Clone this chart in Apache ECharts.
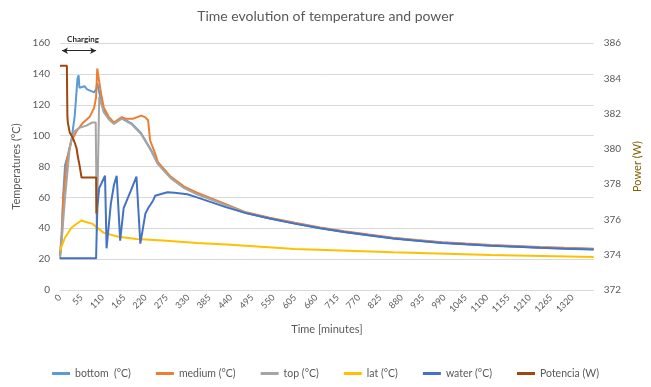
<!DOCTYPE html>
<html><head><meta charset="utf-8">
<script src="https://cdn.jsdelivr.net/npm/echarts@6/dist/echarts.min.js"></script>
<style>html,body{margin:0;padding:0;background:#fff}#c{width:651px;height:387px}</style>
</head><body><div id="c"></div>
<script>
// ---- data (time in minutes, temperatures in °C, power in W) ----
const xTicks = [0,55,110,165,220,275,330,385,440,495,550,605,660,715,770,825,880,935,990,1045,1100,1155,1210,1265,1320];
const tailTimes = [479,540,605,670,732,795,858,920,984,1045,1110,1175,1236,1300,1375];

const bottomTimes = [0,5,8,13,20,30,38,43,45,48,50,63,70,88,93,96,101,106,113,126,139,159,184,209,235,252,285,320,353,429].concat(tailTimes);
const bottomVals  = [22,40,60,81,87,98,113,130,137,139,131,132,130,128,130,134,128,122,116,111,108,111.5,108,101.5,90.5,82,73,66.5,62.5,55,
                     50,46.5,43.2,40.2,37.7,35.6,33.6,32.1,30.7,29.8,28.9,28.2,27.5,27.0,26.5];

const mediumTimes = [0,5,8,18,30,43,58,76,88,93,96,101,106,113,126,139,159,169,189,209,219,227,232,245,252,285,320,353,429].concat(tailTimes);
const mediumVals  = [22,35,58,84,97,103,108,112,118,125,143.5,135,127,118,112,108.5,112,111,111,113,112,110,97,88.5,83,73.5,67,63,55.5,
                     50.3,46.8,43.5,40.5,38.0,35.9,33.9,32.4,31.0,30.1,29.2,28.5,27.8,27.3,26.8];

const topTimes = [0,5,13,25,30,38,50,68,83,92,93,95,101,106,113,126,139,159,184,209,235,252,285,320,353,429].concat(tailTimes);
const topVals  = [20,34,60,92,98,103,105,106.5,108.5,108.5,108.5,38,125,121,115,110.5,107.5,111,107.5,101,90,81.5,72.5,66,62,54.8,
                  49.9,46.4,43.1,40.1,37.6,35.5,33.5,32.0,30.6,29.7,28.8,28.1,27.4,26.9,26.4];

const latTimes = [0,13,30,55,71,83,93,113,121,150,197,265,353,429,605,858,1110,1375];
const latVals  = [25.5,34,40.5,45,43.7,43,41,37,36.5,34.5,33,32,30.5,29.5,26.5,24.5,22.7,21.3];

const waterTimes = [0,93,96,101,116,120,131,139,146,155,164,182,197,207,220,227,240,245,265,277,295,328,353,429].concat(tailTimes);
const waterVals  = [20.5,20.5,53,66,74,27,56,68,74,32,53,64,73.5,30,49.5,53,58,61,62.5,63.3,63,62,60,53.5,
                    49.8,46.3,43.0,40.0,37.5,35.4,33.4,31.9,30.5,29.6,28.7,28.0,27.3,26.8,26.3];

const powerTimes = [0,17.7,19,20.2,25.2,32.8,37.8,42.9,45.4,50.5,55.5,93.3,93.8];
const powerVals  = [384.71,384.71,381.88,381.49,380.92,380.64,380.36,380.02,379.62,379.05,378.37,378.37,376.33];

const seriesNames = ['bottom  (°C)','medium (°C)','top (°C)','lat (°C)','water (°C)','Potencia (W)'];
const seriesColors = ['#5B9BD5','#ED7D31','#A5A5A5','#FFC000','#4472C4','#9E480E'];

function zip(t, v){ return t.map((x,i)=>[x, v[i]]); }

const all = [
  zip(bottomTimes,bottomVals), zip(mediumTimes,mediumVals), zip(topTimes,topVals),
  zip(latTimes,latVals), zip(waterTimes,waterVals), zip(powerTimes,powerVals)
];

const FONT = 'Lato';
const TXT = '#595959';

const chart = echarts.init(document.getElementById('c'));
const series = all.map((d,i)=>({
  name: seriesNames[i], type:'line', data:d, yAxisIndex: i===5?1:0,
  showSymbol:false, symbol:'none', color: seriesColors[i],
  lineStyle:{width:2, color:seriesColors[i]}, animation:false, z: 2+i
}));
// charging annotation
series[0].markLine = {
  silent:true, symbol:['arrow','arrow'], symbolSize:[5,6], animation:false,
  lineStyle:{color:'#262626', width:1, type:'solid'},
  label:{show:true, position:'insideMiddleTop', formatter:'Charging', color:'#262626', fontSize:8, fontWeight:'bold', fontFamily:FONT, distance:7, offset:[4,0]},
  data:[[{coord:[5,155]},{coord:[93,155]}]]
};

chart.setOption({
  animation:false,
  backgroundColor:'#fff',
  textStyle:{fontFamily:FONT},
  title:{text:'Time evolution of temperature and power', left:'center', top:4,
    textStyle:{fontFamily:FONT, fontSize:14, fontWeight:'normal', color:TXT}},
  grid:{left:60, right:46, top:43, bottom:97},
  legend:{bottom:3, left:'center', icon:'rect', itemWidth:18, itemHeight:3, itemGap:25,
    textStyle:{fontFamily:FONT, fontSize:10.5, color:TXT}, data:seriesNames},
  xAxis:{type:'value', min:0, max:1375, interval:55,
    name:'Time [minutes]', nameLocation:'middle', nameGap:34,
    nameTextStyle:{fontFamily:FONT, fontSize:11, color:TXT},
    axisLine:{show:true, lineStyle:{color:'#d9d9d9'}}, axisTick:{show:false},
    splitLine:{show:false},
    axisLabel:{rotate:45, fontSize:9, color:TXT, fontFamily:FONT, showMaxLabel:false, margin:6,
      formatter:v=> xTicks.indexOf(v)>=0 ? String(v) : ''}},
  yAxis:[
    {type:'value', min:0, max:160, interval:20, name:'Temperatures (°C)', nameLocation:'middle', nameGap:37,
      nameTextStyle:{fontFamily:FONT, fontSize:11, color:TXT},
      axisLine:{show:false}, axisTick:{show:false},
      splitLine:{lineStyle:{color:'#d9d9d9'}},
      axisLabel:{fontSize:10, color:TXT, fontFamily:FONT, margin:10}},
    {type:'value', min:372, max:386, interval:2, position:'right', name:'Power (W)', nameLocation:'middle', nameGap:38,
      nameRotate:90,
      nameTextStyle:{fontFamily:FONT, fontSize:11, color:'#7F6000'},
      axisLine:{show:false}, axisTick:{show:false}, splitLine:{show:false},
      axisLabel:{fontSize:10, color:TXT, fontFamily:FONT, margin:10}}
  ],
  series: series
});
</script></body></html>
